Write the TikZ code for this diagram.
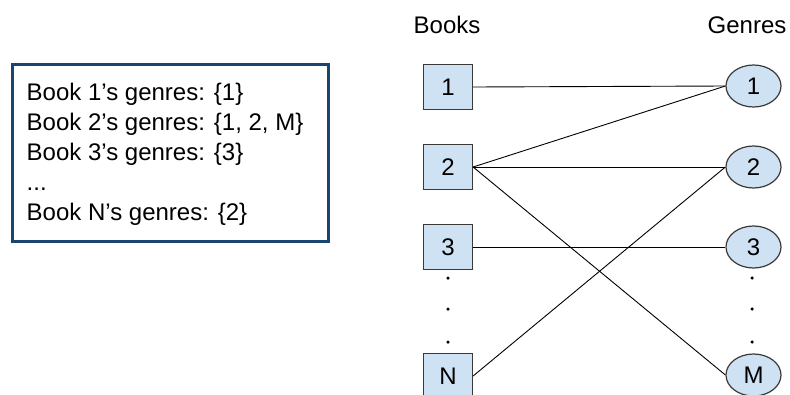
\documentclass[tikz,border=0pt]{standalone}
\usepackage{fontspec}
\setmainfont{Liberation Sans}
\usetikzlibrary{shapes.geometric}
\definecolor{cellfill}{HTML}{CFE2F3}
\definecolor{cellline}{HTML}{3A3A3A}
\definecolor{framenavy}{HTML}{1C4470}
\tikzset{
  bookbox/.style={draw=cellline, fill=cellfill, line width=1.2pt,
    minimum width=49pt, minimum height=45pt, inner sep=0pt,
    font=\fontsize{24}{28}\selectfont},
  genrebox/.style={ellipse, draw=cellline, fill=cellfill, line width=1.2pt,
    minimum width=55pt, minimum height=42pt, inner sep=0pt,
    font=\fontsize{24}{28}\selectfont},
  heading/.style={font=\fontsize{24}{28}\selectfont, inner sep=0pt, anchor=base},
  link/.style={draw=black, line width=0.9pt},
  listframe/.style={draw=framenavy, line width=3pt,
    minimum width=316pt, minimum height=177pt, inner sep=0pt},
  listtext/.style={align=left, inner sep=0pt, anchor=west,
    font=\fontsize{24}{30}\selectfont},
  gap/.style={fill=black, circle, inner sep=0pt, minimum size=3.5pt}
}
\begin{document}
\begin{tikzpicture}[x=1pt, y=-1pt]
  \useasboundingbox (0,0) rectangle (790,394);

  % list of genres per book
  \node[listframe] (list) at (170,152.5) {};
  \node[listtext] (listtxt) at ([xshift=16pt,yshift=-2pt]list.west) {%
    Book 1’s genres: \{1\}\\
    Book 2’s genres: \{1, 2, M\}\\
    Book 3’s genres: \{3\}\\
    ...\\
    Book N’s genres: \{2\}};

  % column headings
  \node[heading] (hbooks) at (447,33) {Books};
  \node[heading] (hgenres) at (747,33) {Genres};

  % books
  \node[bookbox] (b1) at (448,87) {1};
  \node[bookbox] (b2) at (448,167) {2};
  \node[bookbox] (b3) at (448,247) {3};
  \node[bookbox] (bN) at (448,376) {N};

  % genres
  \node[genrebox] (g1) at (753.5,86) {1};
  \node[genrebox] (g2) at (753.5,167) {2};
  \node[genrebox] (g3) at (753.5,247) {3};
  \node[genrebox] (gM) at (753.5,375) {M};

  % ellipsis dots
  \foreach \yy [count=\i] in {278,309,342} {
    \node[gap] (bd\i) at (448,\yy) {};
    \node[gap] (gd\i) at (752,\yy) {};
  }

  % book-genre membership
  \draw[link] (b1.east) -- (g1.west);
  \draw[link] (b2.east) -- (g1.west);
  \draw[link] (b2.east) -- (g2.west);
  \draw[link] (b2.east) -- (gM.west);
  \draw[link] (b3.east) -- (g3.west);
  \draw[link] (bN.east) -- (g2.west);
\end{tikzpicture}
\end{document}
